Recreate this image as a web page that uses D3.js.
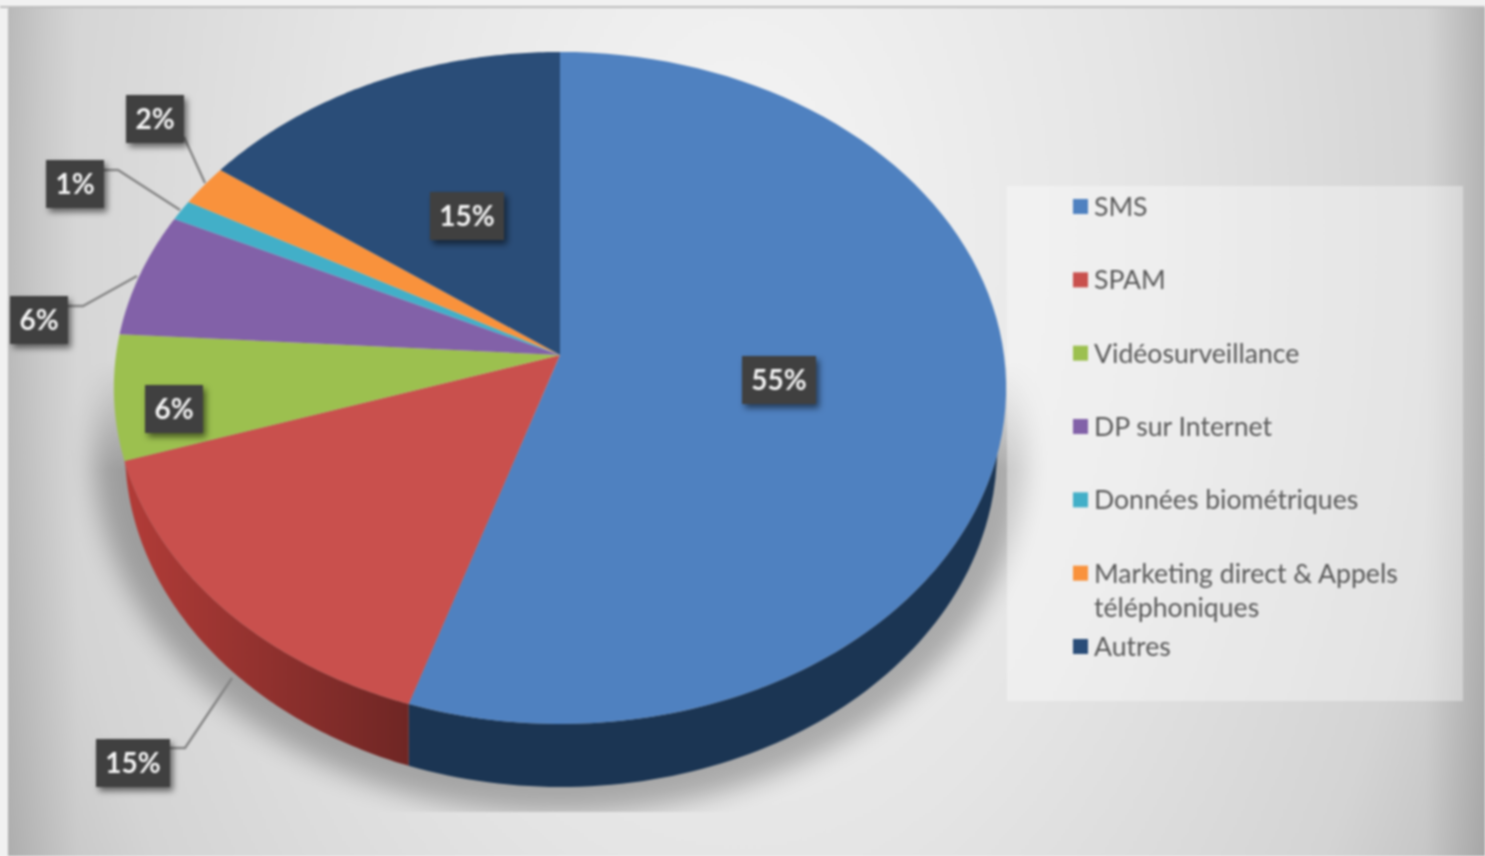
<!DOCTYPE html>
<html>
<head>
<meta charset="utf-8">
<script src="https://cdn.jsdelivr.net/npm/d3@7"></script>
<style>
    html, body { margin: 0; padding: 0; background: #f1f1f1; overflow: hidden; }
    svg { display: block; filter: blur(0.9px); }
    text { font-family: Lato, sans-serif; }
</style>
</head>
<body>
<svg class="pieChart" width="1485" height="856"></svg>
<script>
const categories = ["SMS", "SPAM", "Vidéosurveillance", "DP sur Internet", "Données biométriques", "Marketing direct & Appels téléphoniques", "Autres"];
const values = [55, 15, 6, 6, 1, 2, 15];
const colors = ["#4f81c0", "#c9504d", "#9cc04f", "#8261a8", "#42afc8", "#f9923c", "#2a4d78"];

// where each value label sits, same order as the values
const labelCenters = [[779, 380], [133, 763], [174, 409], [39, 320], [75, 184], [155, 119], [467, 216]];
// leader lines for the labels pulled out of the pie
const leaders = [
    [[170, 748], [185, 748], [232, 678]],
    [[68, 306], [83, 306], [137, 276]],
    [[104, 170], [118, 170], [180, 210]],
    [[184, 137], [205, 183]]
];

const apexX = 560, apexY = 355;
const rimX = 444, rimA = 298, rimK = -0.098;
const baseCx = 561, baseCy = 450, baseRx = 436, baseRy = 337;

const svg = d3.select(".pieChart");
const defs = svg.append("defs");

const bgGrad = defs.append("radialGradient").attr("id", "bgGrad")
    .attr("gradientUnits", "userSpaceOnUse")
    .attr("cx", 740).attr("cy", 230).attr("r", 900)
    .attr("gradientTransform", "translate(0,230) scale(1,1.6) translate(0,-230)");
bgGrad.append("stop").attr("offset", "0").attr("stop-color", "#f5f5f5");
bgGrad.append("stop").attr("offset", "0.45").attr("stop-color", "#e5e5e5");
bgGrad.append("stop").attr("offset", "0.78").attr("stop-color", "#d4d4d4");
bgGrad.append("stop").attr("offset", "1").attr("stop-color", "#b6b6b6");

const leftEdge = defs.append("linearGradient").attr("id", "leftEdge");
leftEdge.append("stop").attr("offset", "0").attr("stop-color", "#000").attr("stop-opacity", 0.1);
leftEdge.append("stop").attr("offset", "1").attr("stop-color", "#000").attr("stop-opacity", 0);

const rightEdge = defs.append("linearGradient").attr("id", "rightEdge");
rightEdge.append("stop").attr("offset", "0").attr("stop-color", "#000").attr("stop-opacity", 0);
rightEdge.append("stop").attr("offset", "1").attr("stop-color", "#000").attr("stop-opacity", 0.13);

const redWall = defs.append("linearGradient").attr("id", "redWall")
    .attr("gradientUnits", "userSpaceOnUse")
    .attr("x1", 125).attr("x2", 412).attr("y1", 0).attr("y2", 0);
redWall.append("stop").attr("offset", "0").attr("stop-color", "#b23c38");
redWall.append("stop").attr("offset", "1").attr("stop-color", "#6e2624");

const blurShadow = defs.append("filter").attr("id", "pieShadow")
    .attr("x", "-10%").attr("y", "-10%").attr("width", "120%").attr("height", "120%");
blurShadow.append("feGaussianBlur").attr("stdDeviation", 13);

const boxShadow = defs.append("filter").attr("id", "boxShadow")
    .attr("x", "-30%").attr("y", "-30%").attr("width", "160%").attr("height", "160%");
boxShadow.append("feDropShadow").attr("dx", 3).attr("dy", 4).attr("stdDeviation", 3)
    .attr("flood-color", "#000").attr("flood-opacity", 0.55);

// shadow fades in going down and stops hard at its bottom edge
const fadeGrad = defs.append("linearGradient").attr("id", "shadowFade")
    .attr("gradientUnits", "userSpaceOnUse")
    .attr("x1", 0).attr("x2", 0).attr("y1", 360).attr("y2", 470);
fadeGrad.append("stop").attr("offset", "0").attr("stop-color", "#000");
fadeGrad.append("stop").attr("offset", "1").attr("stop-color", "#fff");
defs.append("mask").attr("id", "shadowMask")
    .attr("maskUnits", "userSpaceOnUse")
    .attr("x", 0).attr("y", 0).attr("width", 1485).attr("height", 856)
    .append("rect")
    .attr("x", 0).attr("y", 360).attr("width", 1485).attr("height", 452)
    .attr("fill", "url(#shadowFade)");

// background panel
svg.append("rect").attr("x", 0).attr("y", 6).attr("width", 1485).attr("height", 2).attr("fill", "#bdbdbd");
svg.append("rect").attr("x", 8).attr("y", 8).attr("width", 1477).attr("height", 848).attr("fill", "url(#bgGrad)");
svg.append("rect").attr("x", 8).attr("y", 8).attr("width", 70).attr("height", 848).attr("fill", "url(#leftEdge)");
svg.append("rect").attr("x", 1425).attr("y", 8).attr("width", 60).attr("height", 848).attr("fill", "url(#rightEdge)");

// perspective view of a point on the pie rim, angle in radians clockwise from the top
function rimPoint(a) {
    const x = Math.sin(a), y = -Math.cos(a);
    const w = 1 + rimK * y;
    return [apexX + rimX * x / w, (rimA * y + apexY) / w];
}

function baseY(px) {
    const t = (px - baseCx) / baseRx;
    return Math.abs(t) >= 1 ? null : baseCy + baseRy * Math.sqrt(1 - t * t);
}

function sampleAngles(a0, a1) {
    return d3.range(0, 91).map(i => a0 + (a1 - a0) * i / 90);
}

// soft shadow under the pie
const shadowGroup = svg.append("g").attr("mask", "url(#shadowMask)");
shadowGroup.append("ellipse")
    .attr("cx", apexX).attr("cy", 452).attr("rx", 466).attr("ry", 362)
    .attr("fill", "#000").attr("opacity", 0.27)
    .attr("filter", "url(#pieShadow)");

// legend backdrop goes over the shadow
svg.append("rect")
    .attr("x", 1007).attr("y", 186).attr("width", 456).attr("height", 515)
    .attr("fill", "#fff").attr("opacity", 0.36);

const pie = d3.pie().sort(null).value(d => d);
const arcs = pie(values);

const line = d3.line();

// side wall, only the part of the rim facing the viewer
const wallArea = d3.area()
    .x(d => d[0])
    .y0(d => d[1])
    .y1(d => {
        const b = baseY(d[0]);
        return b === null ? d[1] : Math.max(d[1], b);
    });

const wallStart = Math.PI / 2, wallEnd = Math.PI * 1.5;
svg.append("g").selectAll("path")
    .data(arcs.filter(d => d.endAngle > wallStart && d.startAngle < wallEnd))
    .enter()
    .append("path")
    .attr("d", d => {
        const a0 = Math.max(d.startAngle, wallStart), a1 = Math.min(d.endAngle, wallEnd);
        return wallArea(sampleAngles(a0, a1).map(rimPoint));
    })
    .attr("fill", d => d.index === 0 ? "#1b3553" : d.index === 1 ? "url(#redWall)" : colors[d.index]);

// top face
svg.append("g").selectAll("path")
    .data(arcs)
    .enter()
    .append("path")
    .attr("d", d => line([[apexX, apexY]].concat(sampleAngles(d.startAngle, d.endAngle).map(rimPoint))) + "Z")
    .attr("fill", (d, i) => colors[i]);

// leader lines
svg.append("g").selectAll("path")
    .data(leaders)
    .enter()
    .append("path")
    .attr("d", d => line(d))
    .attr("fill", "none")
    .attr("stroke", "#858585")
    .attr("stroke-width", 2.4);

// value labels
const labels = svg.append("g").selectAll("g")
    .data(values)
    .enter()
    .append("g")
    .attr("transform", (d, i) => `translate(${labelCenters[i][0]},${labelCenters[i][1]})`);

labels.append("rect")
    .attr("x", d => d >= 10 ? -37 : -29)
    .attr("y", -24)
    .attr("width", d => d >= 10 ? 74 : 58)
    .attr("height", 48)
    .attr("fill", "#404040")
    .attr("filter", "url(#boxShadow)");

labels.append("text")
    .attr("text-anchor", "middle")
    .attr("y", 10)
    .style("font-size", "28px")
    .style("font-weight", "700")
    .style("fill", "#f4f4f4")
    .text(d => d + "%");

// legend
const legendY = d3.scalePoint().domain(categories).range([206, 646]);

const legend = svg.append("g").selectAll("g")
    .data(categories)
    .enter()
    .append("g")
    .attr("transform", d => `translate(1073,${legendY(d)})`);

legend.append("rect")
    .attr("x", 0).attr("y", -7).attr("width", 15).attr("height", 15)
    .attr("fill", (d, i) => colors[i]);

legend.append("text")
    .attr("x", 21)
    .attr("y", 10)
    .style("font-size", "26.6px")
    .style("fill", "#595959")
    .each(function(d) {
        // long names break after "Appels" like in the original legend
        const el = d3.select(this);
        const words = d.split(" ");
        let row = [], dy = 0;
        words.forEach(w => {
            const t = el.append("tspan").attr("x", 21).attr("dy", dy).text(row.concat(w).join(" "));
            if (t.node().getComputedTextLength() > 320) {
                t.remove();
                el.append("tspan").attr("x", 21).attr("dy", dy).text(row.join(" "));
                row = [w];
                dy = 34;
            } else {
                t.remove();
                row.push(w);
            }
        });
        el.append("tspan").attr("x", 21).attr("dy", dy).text(row.join(" "));
    });
</script>
</body>
</html>
